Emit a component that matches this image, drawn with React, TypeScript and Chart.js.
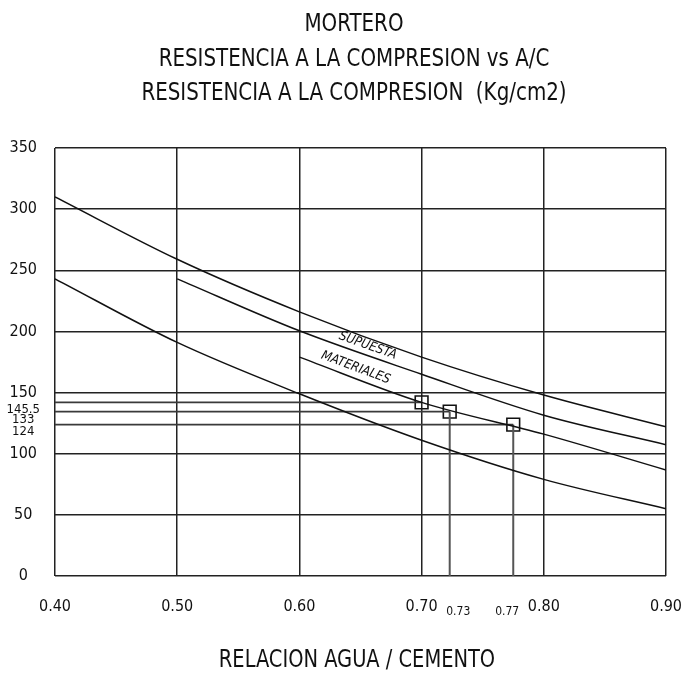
import React, { useEffect, useRef } from "react";
import { Chart, registerables } from "chart.js";

Chart.register(...registerables);

// ---- data ----
const titleLines = [
  "MORTERO",
  "RESISTENCIA A LA COMPRESION vs A/C",
  "RESISTENCIA A LA COMPRESION  (Kg/cm2)",
];
const xAxisTitle = "RELACION AGUA / CEMENTO";

const xMainTicks = [0.4, 0.5, 0.6, 0.7, 0.8, 0.9];
const xMinorTicks = [0.73, 0.77];
const yMainTicks = [0, 50, 100, 150, 200, 250, 300, 350];

// curves
const curveAX = [0.4, 0.5, 0.6, 0.7, 0.8, 0.9];
const curveAY = [310, 259, 216, 179, 148, 122];
const curveBX = [0.5, 0.6, 0.7, 0.8, 0.9];
const curveBY = [243, 200.5, 165, 131.5, 107.4];
const curveCX = [0.6, 0.7, 0.8, 0.9];
const curveCY = [179, 142, 116, 86.7];
const curveDX = [0.4, 0.5, 0.6, 0.7, 0.8, 0.9];
const curveDY = [243, 191, 149, 111, 79, 55];

// design points (squares) and their reference lines
const pointX = [0.7, 0.723, 0.775];
const pointY = [142, 134.4, 123.8];
const pointYLabels = ["145.5", "133", "124"];

// curve labels
const curveLabels = ["SUPUESTA", "MATERIALES"];
const curveLabelX = [0.656, 0.646];
const curveLabelY = [188.3, 170.3];
const curveLabelCurve = [1, 2]; // index into curves for orientation

const FONT = "'Liberation Sans Narrow', 'DejaVu Sans Condensed', 'Arial Narrow', sans-serif";
const INK = "#111";

const isMainX = (v: number) => xMainTicks.some((t) => Math.abs(t - v) < 1e-6);
const isMainY = (v: number) => yMainTicks.some((t) => Math.abs(t - v) < 1e-6);

const toPts = (xs: number[], ys: number[]) => xs.map((x, i) => ({ x, y: ys[i] }));

export default function App() {
  const ref = useRef<HTMLCanvasElement | null>(null);

  useEffect(() => {
    if (!ref.current) return;
    const curves = [
      toPts(curveAX, curveAY),
      toPts(curveBX, curveBY),
      toPts(curveCX, curveCY),
      toPts(curveDX, curveDY),
    ];

    const curveDatasets = curves.map((d) => ({
      data: d,
      borderColor: INK,
      borderWidth: 1.5,
      pointRadius: 0,
      cubicInterpolationMode: "monotone" as const,
      fill: false,
    }));

    const hLines = pointX.map((px, i) => ({
      data: [
        { x: xMainTicks[0], y: pointY[i] },
        { x: px, y: pointY[i] },
      ],
      borderColor: "#3a3a3a",
      borderWidth: 1.8,
      pointRadius: 0,
      fill: false,
    }));

    const vLines = pointX.slice(1).map((px, i) => ({
      data: [
        { x: px, y: 0 },
        { x: px, y: pointY[i + 1] },
      ],
      borderColor: "#555",
      borderWidth: 2,
      pointRadius: 0,
      fill: false,
    }));

    const squares = {
      data: toPts(pointX, pointY),
      showLine: false,
      pointStyle: "rect" as const,
      pointRadius: 9,
      borderColor: INK,
      borderWidth: 1.6,
      backgroundColor: "rgba(0,0,0,0)",
    };

    const drawCondensed = (ctx: CanvasRenderingContext2D, t: string, x: number, y: number, sx: number) => {
      ctx.save();
      ctx.translate(x, y);
      ctx.scale(sx, 1);
      ctx.fillText(t, 0, 0);
      ctx.restore();
    };

    const textPlugin = {
      id: "cadTexts",
      afterDraw(chart: any) {
        const ctx = chart.ctx as CanvasRenderingContext2D;
        ctx.save();
        ctx.fillStyle = INK;
        ctx.textAlign = "center";
        ctx.textBaseline = "middle";
        ctx.font = `24px ${FONT}`;
        const titleY = [25, 60, 94];
        titleLines.forEach((t, i) => drawCondensed(ctx, t, 354, titleY[i], 0.92));
        drawCondensed(ctx, xAxisTitle, 357, 661, 0.9);

        const xs = chart.scales.x;
        const ys = chart.scales.y;
        curveLabels.forEach((t, i) => {
          const c = curves[curveLabelCurve[i]];
          let k = 0;
          while (k < c.length - 2 && c[k + 1].x < curveLabelX[i]) k++;
          const dx = xs.getPixelForValue(c[k + 1].x) - xs.getPixelForValue(c[k].x);
          const dy = ys.getPixelForValue(c[k + 1].y) - ys.getPixelForValue(c[k].y);
          const ang = Math.atan2(dy, dx);
          const px = xs.getPixelForValue(curveLabelX[i]);
          const py = ys.getPixelForValue(curveLabelY[i]);
          ctx.save();
          ctx.translate(px, py);
          ctx.rotate(ang);
          ctx.font = `italic 13px ${FONT}`;
          ctx.fillText(t, 0, 0);
          ctx.restore();
        });
        ctx.restore();
      },
    };

    const chart = new Chart(ref.current, {
      type: "line",
      data: {
        datasets: [...curveDatasets, ...hLines, ...vLines, squares] as any,
      },
      options: {
        animation: false,
        responsive: false,
        devicePixelRatio: 1,
        layout: { padding: { top: 148, right: 17, left: 0, bottom: 0 } },
        plugins: {
          legend: { display: false },
          title: { display: false },
          tooltip: { enabled: false },
        },
        scales: {
          x: {
            type: "linear",
            min: 0.4,
            max: 0.9,
            afterBuildTicks: (scale: any) => {
              scale.ticks = [...xMainTicks, ...xMinorTicks]
                .sort((a, b) => a - b)
                .map((v) => ({ value: v }));
            },
            afterFit: (scale: any) => {
              scale.height = 100;
              scale.paddingLeft = 0;
              scale.paddingRight = 0;
            },
            border: { display: false },
            grid: {
              drawTicks: false,
              color: (c: any) => (isMainX(c.tick.value) ? "#222" : "rgba(0,0,0,0)"),
              lineWidth: (c: any) => (isMainX(c.tick.value) ? 1.5 : 0),
            },
            ticks: {
              autoSkip: false,
              maxRotation: 0,
              crossAlign: "far",
              padding: 31,
              color: INK,
              callback: (v: any) => Number(v).toFixed(2),
              font: (c: any) => ({
                family: FONT,
                size: c.tick && isMainX(c.tick.value) ? 16 : 12,
              }),
            },
          },
          y: {
            type: "linear",
            min: 0,
            max: 350,
            afterBuildTicks: (scale: any) => {
              scale.ticks = [...yMainTicks, ...pointY]
                .sort((a, b) => a - b)
                .map((v) => ({ value: v }));
            },
            afterFit: (scale: any) => {
              scale.width = 55;
              scale.paddingTop = 0;
              scale.paddingBottom = 0;
            },
            border: { display: false },
            grid: {
              drawTicks: false,
              color: (c: any) => (isMainY(c.tick.value) ? "#222" : "rgba(0,0,0,0)"),
              lineWidth: (c: any) => (isMainY(c.tick.value) ? 1.5 : 0),
            },
            ticks: {
              autoSkip: false,
              crossAlign: "center",
              padding: 15,
              color: INK,
              callback: (v: any) => {
                const idx = pointY.findIndex((p) => Math.abs(p - Number(v)) < 1e-6);
                if (idx >= 0) return ["", pointYLabels[idx]];
                return String(v);
              },
              font: (c: any) => {
                const main = c.tick && isMainY(c.tick.value);
                return main
                  ? { family: FONT, size: 16 }
                  : { family: FONT, size: 13, lineHeight: "15px" };
              },
            },
          },
        },
      },
      plugins: [textPlugin],
    });
    return () => chart.destroy();
  }, []);

  return (
    <div style={{ position: "absolute", left: 0, top: 0, width: 683, height: 676, background: "#fff" }}>
      <canvas ref={ref} width={683} height={676} style={{ display: "block" }} />
    </div>
  );
}
